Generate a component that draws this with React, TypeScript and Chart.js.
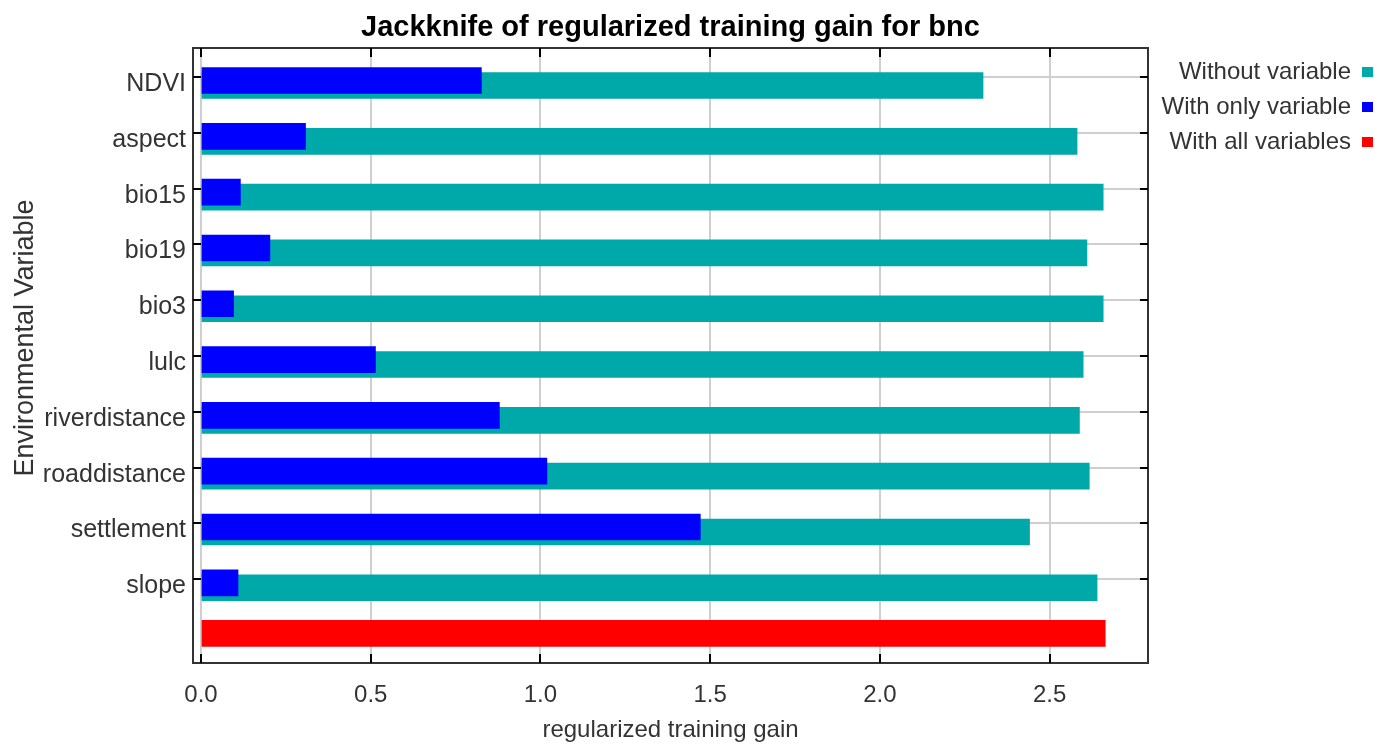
import React, { useEffect, useRef } from 'react';
import { Chart, registerables } from 'chart.js';

Chart.register(...registerables);

// ---- data ----
const variables = ['NDVI', 'aspect', 'bio15', 'bio19', 'bio3', 'lulc', 'riverdistance', 'roaddistance', 'settlement', 'slope'];
const withoutVariable = [2.304, 2.581, 2.658, 2.610, 2.658, 2.599, 2.588, 2.617, 2.441, 2.640];
const withOnlyVariable = [0.826, 0.308, 0.116, 0.203, 0.096, 0.514, 0.879, 1.019, 1.471, 0.109];
const withAllVariables = [2.664];
const xTickValues = [0, 0.5, 1.0, 1.5, 2.0, 2.5];
const seriesLabels = ['Without variable', 'With only variable', 'With all variables'];
const seriesColors = ['#00A9A9', '#0000FF', '#FF0000'];
const chartTitle = 'Jackknife of regularized training gain for bnc';
const xTitle = 'regularized training gain';
const yTitle = 'Environmental Variable';

const FONT = "'Liberation Sans', Arial, Helvetica, sans-serif";
const TEAL_OFF = 0.152;
const BLUE_OFF = 0.063;
const RED_OFF = -0.03;

const decorPlugin = {
  id: 'decor',
  afterDraw(chart: any) {
    const { ctx, chartArea: a, scales } = chart;
    const xs = scales.x;
    const ys = scales.y;
    ctx.save();
    // frame
    ctx.strokeStyle = '#333333';
    ctx.lineWidth = 2;
    ctx.strokeRect(a.left, a.top, a.right - a.left, a.bottom - a.top);
    // inward ticks
    ctx.strokeStyle = '#000000';
    ctx.lineWidth = 2;
    ctx.beginPath();
    xs.ticks.forEach((t: any) => {
      const px = Math.round(xs.getPixelForValue(t.value));
      ctx.moveTo(px, a.bottom);
      ctx.lineTo(px, a.bottom - 9);
      ctx.moveTo(px, a.top);
      ctx.lineTo(px, a.top + 9);
    });
    ys.ticks.forEach((t: any) => {
      const py = Math.round(ys.getPixelForValue(t.value));
      ctx.moveTo(a.left, py);
      ctx.lineTo(a.left + 8, py);
      ctx.moveTo(a.right, py);
      ctx.lineTo(a.right - 8, py);
    });
    ctx.stroke();

    const cx = (a.left + a.right) / 2;
    // title
    ctx.fillStyle = '#000000';
    ctx.font = `bold 29px ${FONT}`;
    ctx.textAlign = 'center';
    ctx.textBaseline = 'alphabetic';
    ctx.fillText(chartTitle, cx, 36);
    // x title
    ctx.fillStyle = '#333333';
    ctx.font = `24px ${FONT}`;
    ctx.fillText(xTitle, cx, 737);
    // y title
    ctx.save();
    ctx.translate(33, 338);
    ctx.rotate(-Math.PI / 2);
    ctx.font = `27px ${FONT}`;
    ctx.textAlign = 'center';
    ctx.fillText(yTitle, 0, 0);
    ctx.restore();
    // legend
    ctx.font = `24px ${FONT}`;
    ctx.textAlign = 'right';
    const baselines = [79, 114, 149];
    seriesLabels.forEach((lab, i) => {
      ctx.fillStyle = '#333333';
      ctx.fillText(lab, 1351, baselines[i]);
      ctx.fillStyle = seriesColors[i];
      ctx.fillRect(1362, baselines[i] - 12, 11, 10);
    });
    ctx.restore();
  },
};

export default function App() {
  const ref = useRef<HTMLCanvasElement | null>(null);

  useEffect(() => {
    if (!ref.current) return;
    const chart = new Chart(ref.current, {
      type: 'bar',
      data: {
        datasets: [
          {
            label: seriesLabels[0],
            data: withoutVariable.map((v, i) => ({ x: v, y: i + TEAL_OFF })),
            backgroundColor: seriesColors[0],
            order: 2,
          },
          {
            label: seriesLabels[1],
            data: withOnlyVariable.map((v, i) => ({ x: v, y: i + BLUE_OFF })),
            backgroundColor: seriesColors[1],
            order: 1,
          },
          {
            label: seriesLabels[2],
            data: withAllVariables.map((v, i) => ({ x: v, y: variables.length + i + RED_OFF })),
            backgroundColor: seriesColors[2],
            order: 3,
          },
        ] as any,
      },
      options: {
        indexAxis: 'y',
        responsive: false,
        animation: false,
        events: [],
        datasets: {
          bar: { grouped: false, barThickness: 26, borderWidth: 0 } as any,
        },
        layout: { padding: { left: 0, top: 48, right: 1377 - 1148, bottom: 0 } },
        plugins: {
          legend: { display: false },
          title: { display: false },
          tooltip: { enabled: false },
        },
        scales: {
          x: {
            type: 'linear',
            min: -0.0236,
            max: 2.79,
            offset: false,
            afterFit: (s: any) => { s.height = 744 - 663; },
            afterBuildTicks: (s: any) => { s.ticks = xTickValues.map((v) => ({ value: v })); },
            ticks: {
              callback: (v: any) => Number(v).toFixed(1),
              font: { family: FONT, size: 24 },
              color: '#333333',
              padding: 18,
              maxRotation: 0,
            },
            grid: { color: '#CFCFCF', lineWidth: 2, drawTicks: false, offset: false },
            border: { display: false },
          },
          y: {
            type: 'linear',
            reverse: true,
            min: -0.52,
            max: 10.5,
            offset: false,
            afterFit: (s: any) => { s.width = 193; },
            afterBuildTicks: (s: any) => { s.ticks = variables.map((_, i) => ({ value: i })); },
            ticks: {
              callback: (v: any) => variables[Math.round(Number(v))] ?? '',
              font: { family: FONT, size: 25 },
              color: '#333333',
              padding: 7,
              labelOffset: 7,
            },
            grid: { color: '#CFCFCF', lineWidth: 2, drawTicks: false, offset: false },
            border: { display: false },
          },
        },
      } as any,
      plugins: [decorPlugin],
    });
    return () => chart.destroy();
  }, []);

  return (
    <div style={{ position: 'absolute', left: 0, top: 0, width: 1377, height: 744, background: '#ffffff' }}>
      <canvas ref={ref} width={1377} height={744} style={{ width: 1377, height: 744, display: 'block' }} />
    </div>
  );
}
